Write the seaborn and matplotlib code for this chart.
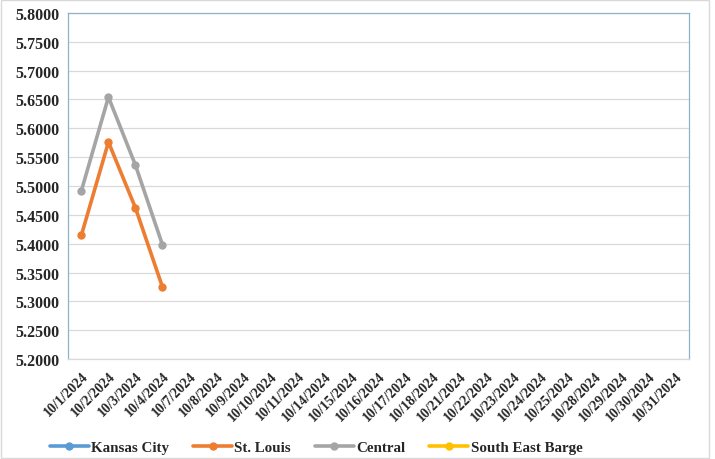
import numpy as np
import pandas as pd
import matplotlib
matplotlib.use("Agg")
import matplotlib.pyplot as plt
from matplotlib.lines import Line2D
from matplotlib.patches import Rectangle
import seaborn as sns

dates = ["10/1/2024", "10/2/2024", "10/3/2024", "10/4/2024", "10/7/2024", "10/8/2024",
         "10/9/2024", "10/10/2024", "10/11/2024", "10/14/2024", "10/15/2024", "10/16/2024",
         "10/17/2024", "10/18/2024", "10/21/2024", "10/22/2024", "10/23/2024", "10/24/2024",
         "10/25/2024", "10/28/2024", "10/29/2024", "10/30/2024", "10/31/2024"]
n = len(dates)
kansas_city = [np.nan] * n
st_louis = [5.415, 5.576, 5.462, 5.325] + [np.nan] * (n - 4)
central = [5.492, 5.654, 5.536, 5.398] + [np.nan] * (n - 4)
se_barge = [np.nan] * n

series_names = ["Kansas City", "St. Louis", "Central", "South East Barge"]
series_vals = [kansas_city, st_louis, central, se_barge]
colors = ["#5B9BD5", "#ED7D31", "#A5A5A5", "#FFC000"]
y_ticks = [5.2, 5.25, 5.3, 5.35, 5.4, 5.45, 5.5, 5.55, 5.6, 5.65, 5.7, 5.75, 5.8]

sns.set_theme(style="white")
plt.rcParams['font.family'] = ['Liberation Serif', 'DejaVu Serif']
plt.rcParams['font.weight'] = 'bold'

fig = plt.figure(figsize=(7.15, 4.6), dpi=100)
ax = fig.add_axes([0.095, 0.217, 0.869, 0.753])

x = np.arange(n)
for name, vals, c in zip(series_names, series_vals, colors):
    df = pd.DataFrame({"x": x, "y": vals}).dropna()
    if len(df):
        sns.lineplot(data=df, x="x", y="y", color=c, linewidth=2.6, marker="o",
                     markersize=6, markeredgewidth=0, ax=ax, legend=False)

ax.set_xlim(-0.5, n - 0.5)
ax.set_ylim(5.2, 5.8)
ax.set_yticks(y_ticks)
ax.set_yticklabels([f"{v:.4f}" for v in y_ticks], fontsize=11.5, fontweight='bold')
ax.set_xticks(x)
ax.set_xticklabels(dates, rotation=45, ha='right', rotation_mode='anchor',
                   fontsize=10, fontweight='bold')
ax.tick_params(axis='x', length=0, pad=7)
ax.tick_params(axis='y', length=0, pad=6)
ax.set_xlabel("")
ax.set_ylabel("")
ax.grid(axis='y', color='#d9d9d9', linewidth=0.9)
ax.set_axisbelow(True)
for s in ['left', 'top', 'right']:
    ax.spines[s].set_color('#8db3c7')
    ax.spines[s].set_linewidth(0.9)
ax.spines['bottom'].set_color('#d9d9d9')
ax.spines['bottom'].set_linewidth(0.9)

handles = [Line2D([0], [0], color=c, linewidth=2.6, marker='o', markersize=5)
           for c in colors]
fig.legend(handles, series_names, loc='center', bbox_to_anchor=(0.442, 0.025),
           ncol=4, frameon=False, handlelength=2.6, columnspacing=1.6,
           handletextpad=0.15, prop={'weight': 'bold', 'size': 10.8})

fig.patches.append(Rectangle((0.002, 0.002), 0.99, 0.996, transform=fig.transFigure,
                             fill=False, edgecolor='#d9d9d9', linewidth=1))

fig.savefig("out.png", dpi=100)
